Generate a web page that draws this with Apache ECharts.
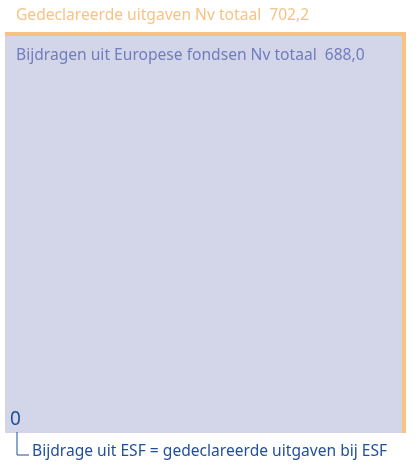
<!DOCTYPE html>
<html style="height: 100%">
<head>
<meta charset="utf-8">
<script src="https://cdn.jsdelivr.net/npm/echarts@6/dist/echarts.min.js"></script>
</head>
<body style="height: 100%; margin: 0; background: #fff">
<div id="container" style="width: 419px; height: 468px"></div>
<script type="text/javascript">
var names = ['Gedeclareerde uitgaven Nv totaal', 'Bijdragen uit Europese fondsen Nv totaal', 'Bijdrage uit ESF = gedeclareerde uitgaven bij ESF'];
var values = [702.2, 688.0, 0];
var labels = ['702,2', '688,0', '0'];
var colors = ['#f8c283', '#d3d5e9', '#1f4f9b'];

var dom = document.getElementById('container');
var myChart = echarts.init(dom);

// side of each square = sqrt(value), squares share bottom-left corner
var sides = values.map(function (v) { return Math.sqrt(v); });
var maxSide = sides[0];

function renderItem(params, api) {
	var i = params.dataIndex;
	var s = api.value(1);
	var p0 = api.coord([0, 0]);
	var p1 = api.coord([s, s]);
	var font = '15.6px "Noto Sans"';
	if (i === 0) {
		return {
			type: 'group',
			children: [{
				type: 'rect',
				shape: { x: p0[0], y: p1[1], width: p1[0] - p0[0], height: p0[1] - p1[1] },
				style: { fill: colors[0] }
			}, {
				type: 'text',
				style: {
					x: p0[0] + 11, y: p1[1] - 16, text: names[0] + '  ' + labels[0],
					fill: '#f8c283', font: font, textVerticalAlign: 'middle'
				}
			}]
		};
	}
	if (i === 1) {
		return {
			type: 'group',
			children: [{
				type: 'rect',
				shape: { x: p0[0], y: p1[1], width: p1[0] - p0[0], height: p0[1] - p1[1] },
				style: { fill: colors[1] }
			}, {
				type: 'text',
				style: {
					x: p0[0] + 11, y: p1[1] + 19, text: names[1] + '  ' + labels[1],
					fill: '#717dbd', font: font, textVerticalAlign: 'middle'
				}
			}]
		};
	}
	// ESF: zero-size square, label plus leader line
	var lx = p0[0] + 12;
	return {
		type: 'group',
		children: [{
			type: 'text',
			style: {
				x: p0[0] + 5, y: p0[1] - 13, text: labels[2],
				fill: colors[2], font: '19px "Noto Sans"', textVerticalAlign: 'middle'
			}
		}, {
			type: 'polyline',
			shape: { points: [[lx, p0[1] - 1], [lx, p0[1] + 22], [lx + 12, p0[1] + 22]] },
			style: { stroke: colors[2], lineWidth: 1, fill: null }
		}, {
			type: 'text',
			style: {
				x: lx + 15, y: p0[1] + 19, text: names[2],
				fill: colors[2], font: font, textVerticalAlign: 'middle'
			}
		}]
	};
}

var option = {
	backgroundColor: '#ffffff',
	animation: false,
	grid: { left: 5, top: 32, width: 401, height: 401 },
	xAxis: { type: 'value', min: 0, max: maxSide, show: false },
	yAxis: { type: 'value', min: 0, max: maxSide, show: false },
	series: [{
		type: 'custom',
		renderItem: renderItem,
		clip: false,
		data: sides.map(function (s, i) { return [i, s]; }),
		encode: { x: 1, y: 1 }
	}]
};
myChart.setOption(option);
</script>
</body>
</html>
